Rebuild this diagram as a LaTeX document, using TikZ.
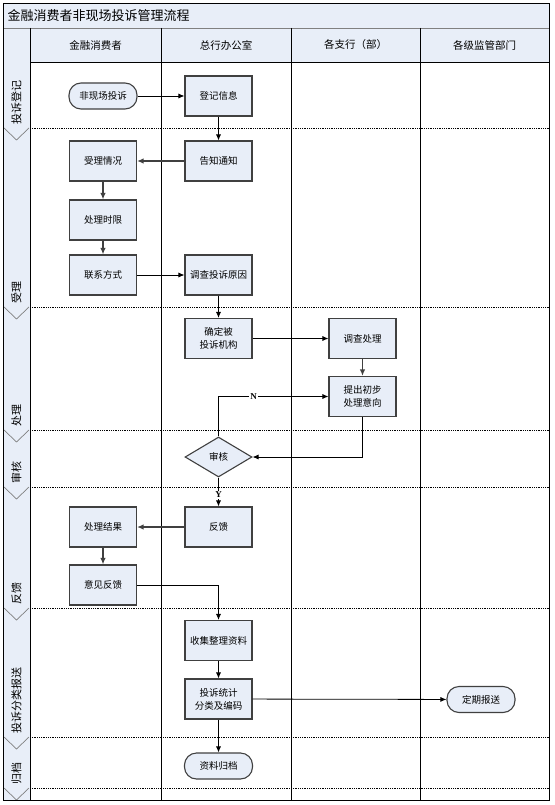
\documentclass[tikz,border=0pt]{standalone}
\usepackage{fontspec}
\setmainfont{Noto Sans CJK SC}
\newfontfamily\latinserif{Liberation Serif}
\usepackage{tikz}
\usetikzlibrary{positioning,arrows.meta,calc,shapes.geometric}
\definecolor{laneblue}{HTML}{E8EEF8}
\definecolor{boxgray}{HTML}{404040}
\definecolor{linegray}{HTML}{808080}
\tikzset{
  flowarrow/.style={-{Latex[length=6pt,width=5pt]}, line width=0.8pt},
  softarrow/.style={-{Latex[length=6.5pt,width=5.5pt]}, line width=1.3pt, draw=boxgray},
  procbox/.style={draw=boxgray, line width=1.1pt, fill=laneblue, minimum width=67pt, minimum height=40pt, inner sep=1pt, align=center, font=\fontsize{9.5}{13}\selectfont},
  termbox/.style={draw=boxgray, line width=1.1pt, fill=laneblue, rounded corners=12pt, minimum width=68pt, minimum height=26pt, inner sep=1pt, align=center, font=\fontsize{9.5}{12}\selectfont},
  checkbox/.style={draw=boxgray, line width=1.1pt, fill=laneblue, diamond, minimum width=67pt, minimum height=40pt, inner sep=0pt, font=\fontsize{9.5}{12}\selectfont},
  lanehead/.style={font=\fontsize{10.5}{12}\selectfont},
  phaselabel/.style={rotate=90, anchor=west, inner sep=1pt, font=\fontsize{11}{12}\selectfont},
  branchlabel/.style={fill=white, inner sep=1pt, font=\latinserif\bfseries\fontsize{9}{10}\selectfont},
  phaseline/.style={densely dotted, line width=0.8pt},
  chevron/.style={draw=linegray, line width=0.7pt}
}

\begin{document}
\begin{tikzpicture}[x=1pt, y=-1pt]
  \useasboundingbox (0,0) rectangle (554,805);
  % frame, title and lane heads
  \fill[laneblue] (3,28) rectangle (30,800);
  \fill[laneblue] (30,28) rectangle (549,62);
  \draw[draw=linegray, fill=laneblue, line width=0.8pt] (3,3) rectangle (549,28);
  \node[anchor=west, font=\fontsize{13}{14}\selectfont] (title) at (4,15.5) {金融消费者非现场投诉管理流程};
  \node[lanehead] (h1) at (95.5,45) {金融消费者};
  \node[lanehead] (h2) at (226,45) {总行办公室};
  \node[lanehead] (h3) at (355.5,45) {各支行（部）};
  \node[lanehead] (h4) at (484.5,45) {各级监管部门};
  % phase boundaries
  \draw[phaseline] (30,128) -- (549,128);
  \draw[phaseline] (30,307) -- (549,307);
  \draw[phaseline] (30,430) -- (549,430);
  \draw[phaseline] (30,487) -- (549,487);
  \draw[phaseline] (30,608) -- (549,608);
  \draw[phaseline] (30,737) -- (549,737);
  \draw[phaseline] (30,788) -- (549,788);
  \draw[chevron] (4,128) -- (16.5,140) -- (29,128);
  \draw[chevron] (4,307) -- (16.5,319) -- (29,307);
  \draw[chevron] (4,430) -- (16.5,442) -- (29,430);
  \draw[chevron] (4,487) -- (16.5,499) -- (29,487);
  \draw[chevron] (4,608) -- (16.5,620) -- (29,608);
  \draw[chevron] (4,737) -- (16.5,749) -- (29,737);
  \draw[chevron] (4,788) -- (16.5,800) -- (29,788);
  \node[phaselabel] (p1) at (16.5,126) {投诉登记};
  \node[phaselabel] (p2) at (16.5,305) {受理};
  \node[phaselabel] (p3) at (16.5,428) {处理};
  \node[phaselabel] (p4) at (16.5,485) {审核};
  \node[phaselabel] (p5) at (16.5,606) {反馈};
  \node[phaselabel] (p6) at (16.5,735) {投诉分类报送};
  \node[phaselabel] (p7) at (16.5,786) {归档};
  % lanes
  \draw[line width=0.8pt] (30,62) -- (549,62);
  \draw[line width=0.8pt] (30,28) -- (30,800);
  \draw[line width=0.8pt] (161,28) -- (161,800);
  \draw[line width=0.8pt] (291,28) -- (291,800);
  \draw[line width=0.8pt] (420,28) -- (420,800);
  \draw[line width=0.9pt] (3,3) rectangle (549,800);

  % steps
  \node[termbox] (fxts) at (103,96) {非现场投诉};
  \node[procbox] (djxx) at (218.5,96) {登记信息};
  \node[procbox] (gztz) at (218.5,161) {告知通知};
  \node[procbox] (slqk) at (103,161) {受理情况};
  \node[procbox] (clsx) at (103,220) {处理时限};
  \node[procbox] (lxfs) at (103,275) {联系方式};
  \node[procbox] (dcyy) at (218.5,275) {调查投诉原因};
  \node[procbox] (qdjg) at (218.5,338.5) {确定被\\投诉机构};
  \node[procbox] (dccl) at (362.5,338.5) {调查处理};
  \node[procbox] (tcyx) at (362.5,396.5) {提出初步\\处理意向};
  \node[checkbox] (shenhe) at (218.5,457) {审核};
  \node[procbox] (fankui) at (218.5,527) {反馈};
  \node[procbox] (cljg) at (103,527) {处理结果};
  \node[procbox] (yjfk) at (103,585) {意见反馈};
  \node[procbox] (sjzl) at (218.5,640.5) {收集整理资料};
  \node[procbox] (tjbm) at (218.5,699) {投诉统计\\分类及编码};
  \node[termbox] (dqbs) at (481,699.5) {定期报送};
  \node[termbox] (zlgd) at (218.5,766) {资料归档};

  % connectors
  \draw[flowarrow] (fxts) -- (djxx);
  \draw[flowarrow] (djxx) -- (gztz);
  \draw[softarrow] (gztz) -- (slqk);
  \draw[softarrow] (slqk) -- (clsx);
  \draw[softarrow] (clsx) -- (lxfs);
  \draw[flowarrow] (lxfs) -- (dcyy);
  \draw[flowarrow] (dcyy) -- (qdjg);
  \draw[flowarrow] (qdjg) -- (dccl);
  \draw[softarrow] (dccl) -- (tcyx);
  \draw[flowarrow] (tcyx.south) |- (shenhe.east);
  \draw[flowarrow] (shenhe.north) |- node[branchlabel, pos=0.66] {N} (tcyx.west);
  \draw[flowarrow] (shenhe.south) -- node[branchlabel, pos=0.6] {Y} (fankui.north);
  \draw[softarrow] (fankui) -- (cljg);
  \draw[softarrow] (cljg) -- (yjfk);
  \draw[flowarrow] (yjfk.east) -| (sjzl.north);
  \draw[flowarrow] (sjzl) -- (tjbm);
  \draw[flowarrow] (tjbm) -- (dqbs);
  \draw[flowarrow] (tjbm) -- (zlgd);
\end{tikzpicture}
\end{document}
